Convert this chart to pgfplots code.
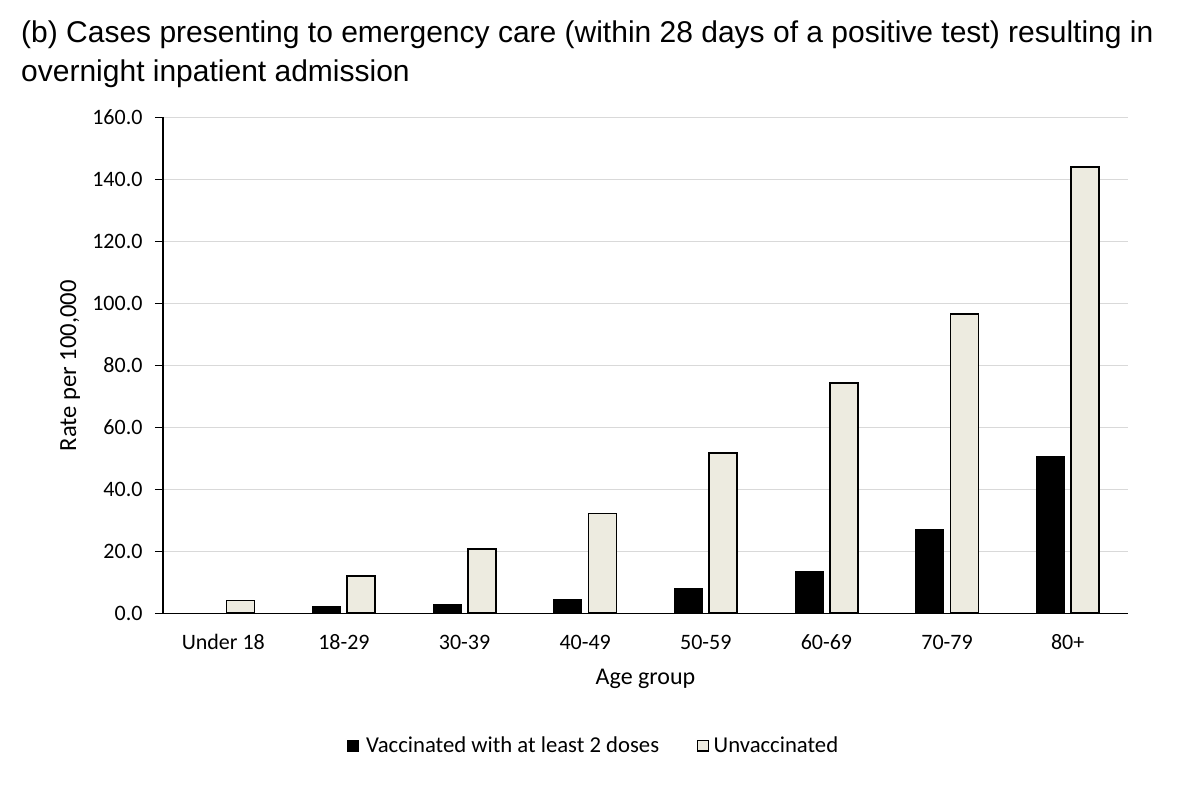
\documentclass[border=0pt]{standalone}
\usepackage{fontspec}
\setmainfont{Carlito}
\newfontfamily\arial{Liberation Sans}
\usepackage{pgfplots}
\pgfplotsset{compat=1.18}
\definecolor{unv}{RGB}{237,235,224}
\definecolor{gridc}{RGB}{217,217,217}
\begin{document}
\begin{tikzpicture}
\useasboundingbox (0pt,0pt) rectangle (1186pt,791pt);
\node[anchor=base west, inner sep=0, font=\arial\fontsize{30}{40}\selectfont] at (21pt,748.5pt) {(b) Cases presenting to emergency care (within 28 days of a positive test) resulting in};
\node[anchor=base west, inner sep=0, font=\arial\fontsize{30}{40}\selectfont] at (21pt,709pt) {overnight inpatient admission};
\begin{axis}[
  at={(163pt,177.7pt)}, anchor=south west,
  scale only axis, width=965pt, height=496pt,
  xmin=-0.5, xmax=7.5, ymin=0, ymax=160,
  axis lines*=left,
  axis line style={line width=1.3pt, black},
  ytick={0,20,...,160},
  yticklabel style={/pgf/number format/fixed, /pgf/number format/fixed zerofill, /pgf/number format/precision=1, anchor=east, xshift=-9pt},
  /pgf/number format/assume math mode=true,
  ymajorgrids, major grid style={gridc, line width=1.5pt},
  y tick style={black, line width=1.3pt},
  tick align=outside, major tick length=8pt,
  xtick={0,...,7},
  xticklabels={Under 18,18-29,30-39,40-49,50-59,60-69,70-79,80+},
  x tick style={draw=none},
  minor xtick={-0.5,0.5,...,7.5},
  minor x tick style={black, line width=1.3pt},
  minor tick length=7pt,
  ticklabel style={font=\fontsize{22}{26}\selectfont},
  xticklabel style={anchor=base, yshift=-28pt},
  xlabel={Age group},
  label style={font=\fontsize{24}{28}\selectfont},
  xlabel style={at={(axis description cs:0.5,0)}, anchor=base, yshift=-71.7pt},
  ybar, bar width=28pt,
  clip=false,
]
\addplot[fill=black, draw=black, line width=1pt, bar shift=-17.3pt] coordinates
  {(0,0) (1,2.1) (2,2.7) (3,4.5) (4,7.9) (5,13.5) (6,27.1) (7,50.7)};
\addplot[fill=unv, draw=black, line width=1.6pt, bar shift=17.3pt] coordinates
  {(0,4.1) (1,12.0) (2,20.7) (3,32.2) (4,51.7) (5,74.2) (6,96.6) (7,144.0)};
\end{axis}
\node[rotate=90, anchor=base, inner sep=0, font=\fontsize{24.6}{28}\selectfont] at (76pt,425.2pt) {Rate per 100,000};
\fill[black] (346.7pt,39.3pt) rectangle (359.3pt,51.3pt);
\node[anchor=base west, inner sep=0, font=\fontsize{22.7}{27}\selectfont] at (366pt,38pt) {Vaccinated with at least 2 doses};
\draw[fill=unv, draw=black, line width=1.3pt] (697.3pt,39.9pt) rectangle (708.7pt,50.7pt);
\node[anchor=base west, inner sep=0, font=\fontsize{22.7}{27}\selectfont] at (713.5pt,38pt) {Unvaccinated};
\end{tikzpicture}
\end{document}
